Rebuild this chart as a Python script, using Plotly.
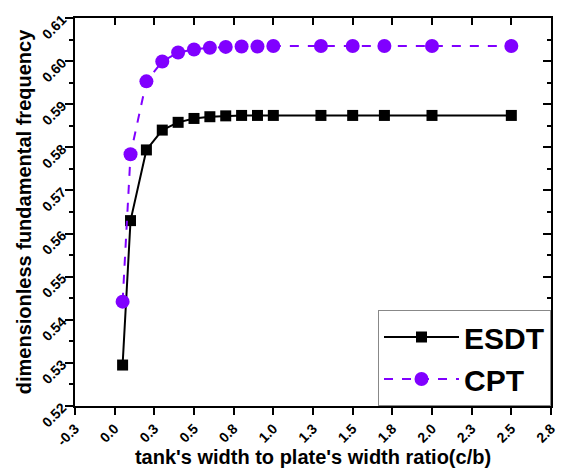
import plotly.graph_objects as go

ratio = [0.05, 0.1, 0.2, 0.3, 0.4, 0.5, 0.6, 0.7, 0.8, 0.9, 1.0, 1.3, 1.5, 1.7, 2.0, 2.5]
esdt = [0.5295, 0.5630, 0.5794, 0.5840, 0.5858, 0.5867, 0.5871, 0.5873, 0.5874, 0.5874,
        0.5874, 0.5874, 0.5874, 0.5874, 0.5874, 0.5874]
cpt = [0.5442, 0.5784, 0.5953, 0.5999, 0.6020, 0.6027, 0.6031, 0.6033, 0.6034, 0.6034,
       0.6035, 0.6035, 0.6035, 0.6035, 0.6035, 0.6035]

x_tickvals = [-0.25, 0.0, 0.25, 0.5, 0.75, 1.0, 1.25, 1.5, 1.75, 2.0, 2.25, 2.5, 2.75]
x_ticktext = ["-0.3", "0.0", "0.3", "0.5", "0.8", "1.0", "1.3", "1.5", "1.8", "2.0", "2.3", "2.5", "2.8"]
y_tickvals = [0.52, 0.53, 0.54, 0.55, 0.56, 0.57, 0.58, 0.59, 0.60, 0.61]
y_ticktext = ["0.52", "0.53", "0.54", "0.55", "0.56", "0.57", "0.58", "0.59", "0.60", "0.61"]
y_minor = [0.525, 0.535, 0.545, 0.555, 0.565, 0.575, 0.585, 0.595, 0.605]

FONT = "Liberation Sans"
XR = [-0.25, 2.75]
YR = [0.52, 0.61]

fig = go.Figure()
fig.add_trace(go.Scatter(
    x=ratio, y=esdt, name="ESDT", mode="lines+markers",
    line=dict(color="black", width=2),
    marker=dict(symbol="square", size=11, color="black"),
))
fig.add_trace(go.Scatter(
    x=ratio, y=cpt, name="CPT", mode="lines+markers",
    line=dict(color="#8000ff", width=2, dash="dash"),
    marker=dict(symbol="circle", size=14, color="#8000ff"),
))
# dummy trace for mirrored axes (top/right, inward ticks)
fig.add_trace(go.Scatter(x=[None], y=[None], xaxis="x2", yaxis="y2", showlegend=False,
                         hoverinfo="skip"))

tickfont = dict(family=FONT, size=14, color="black", weight="bold")
fig.update_layout(
    width=569, height=476,
    margin=dict(l=75, r=11, t=18, b=68),
    paper_bgcolor="white", plot_bgcolor="white",
    font=dict(family=FONT, color="black"),
    xaxis=dict(
        range=XR, tickvals=x_tickvals, ticktext=x_ticktext, tickangle=-45,
        ticks="outside", ticklen=7, tickwidth=2, tickcolor="black",
        showline=True, linecolor="black", linewidth=2, showgrid=False, zeroline=False,
        tickfont=tickfont,
        title=dict(text="tank's width to plate's width ratio(c/b)",
                   font=dict(family=FONT, size=20, color="black", weight="bold"), standoff=2),
    ),
    yaxis=dict(
        range=YR, tickvals=y_tickvals, ticktext=y_ticktext, tickangle=-45,
        ticks="outside", ticklen=8, tickwidth=2, tickcolor="black",
        showline=True, linecolor="black", linewidth=2, showgrid=False, zeroline=False,
        tickfont=tickfont,
        minor=dict(tickvals=y_minor, ticks="outside", ticklen=4, tickwidth=2, tickcolor="black"),
        title=dict(text="dimensionless fundamental frequency",
                   font=dict(family=FONT, size=20, color="black", weight="bold"), standoff=2),
    ),
    xaxis2=dict(
        range=XR, overlaying="x", side="top", tickvals=x_tickvals, showticklabels=False,
        ticks="inside", ticklen=7, tickwidth=2, tickcolor="black",
        showline=True, linecolor="black", linewidth=2, showgrid=False, zeroline=False,
    ),
    yaxis2=dict(
        range=YR, overlaying="y", side="right", tickvals=y_tickvals, showticklabels=False,
        ticks="inside", ticklen=8, tickwidth=2, tickcolor="black",
        showline=True, linecolor="black", linewidth=2, showgrid=False, zeroline=False,
        minor=dict(tickvals=y_minor, ticks="inside", ticklen=4, tickwidth=2, tickcolor="black"),
    ),
    legend=dict(
        x=1, y=0, xanchor="right", yanchor="bottom",
        bgcolor="white", bordercolor="#888888", borderwidth=1,
        font=dict(family=FONT, size=30, color="black", weight="bold"),
        itemwidth=75, tracegroupgap=0,
    ),
    showlegend=True,
)

fig.write_html("out.html")
